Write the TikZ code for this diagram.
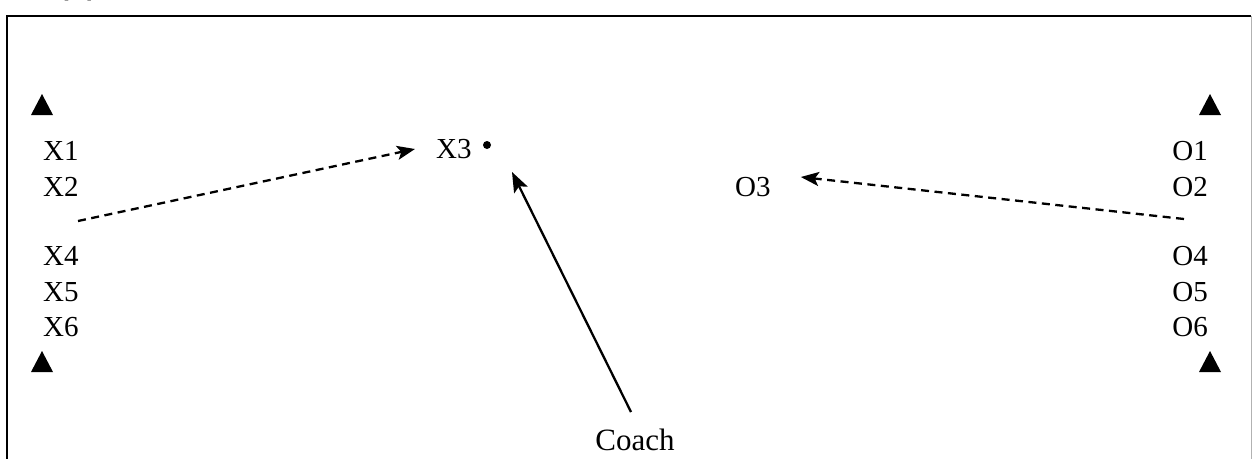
\documentclass[tikz,border=0pt]{standalone}
\usepackage{fontspec}
\setmainfont{Liberation Serif}
\newfontfamily\headfont{Liberation Sans}
\usetikzlibrary{arrows.meta}
\begin{document}
\begin{tikzpicture}[x=1pt,y=-1pt,
  lbl/.style={inner sep=0pt, font=\fontsize{29}{29}\selectfont},
  pass/.style={dash pattern=on 8pt off 5.5pt, line width=2.3pt,
    -{Stealth[length=18pt,width=14pt,inset=4pt]}},
  run/.style={line width=2.3pt, -{Stealth[length=20pt,width=15pt,inset=4pt]}}]
\useasboundingbox (0,0) rectangle (1253,458);
% frame
\draw[line width=2.6pt] (7,470) -- (7,16) -- (1251,16);
\draw[line width=1pt, gray!60] (1251,16) -- (1251,470);
% panel title, sitting above the frame
\node[font=\headfont\bfseries\fontsize{26}{26}\selectfont, anchor=south] (title) at (78,4) {(A)};
% cones
\fill (31,115) -- (53,115) -- (42,94) -- cycle;
\fill (31,372) -- (53,372) -- (42,351) -- cycle;
\fill (1199,115) -- (1221,115) -- (1210,94) -- cycle;
\fill (1199,372) -- (1221,372) -- (1210,351) -- cycle;
% team X
\node[lbl, anchor=west] (x1) at (43,151) {X1};
\node[lbl, anchor=west] (x2) at (43,187) {X2};
\node[lbl, anchor=west] (x4) at (43,256) {X4};
\node[lbl, anchor=west] (x5) at (43,292) {X5};
\node[lbl, anchor=west] (x6) at (43,327) {X6};
\node[lbl, anchor=west] (x3) at (436,149) {X3};
\coordinate (ball) at (487,145);
\fill (ball) circle (4pt);
% team O
\node[lbl, anchor=east] (o1) at (1208,151) {O1};
\node[lbl, anchor=east] (o2) at (1208,187) {O2};
\node[lbl, anchor=east] (o4) at (1208,256) {O4};
\node[lbl, anchor=east] (o5) at (1208,292) {O5};
\node[lbl, anchor=east] (o6) at (1208,327) {O6};
\node[lbl, anchor=west] (o3) at (735,187) {O3};
% coach
\node[lbl, font=\fontsize{31}{31}\selectfont] (coach) at (635,440) {Coach};
% movement
\coordinate (xgap) at (78,221);
\coordinate (ogap) at (1184,219);
\coordinate (coachend) at (631,412);
\draw[pass] (xgap) -- ([xshift=-21pt]x3.west);
\draw[pass] (ogap) -- ([xshift=30pt,yshift=10pt]o3.east);
\draw[run] (coachend) -- (512,172);
\end{tikzpicture}
\end{document}
